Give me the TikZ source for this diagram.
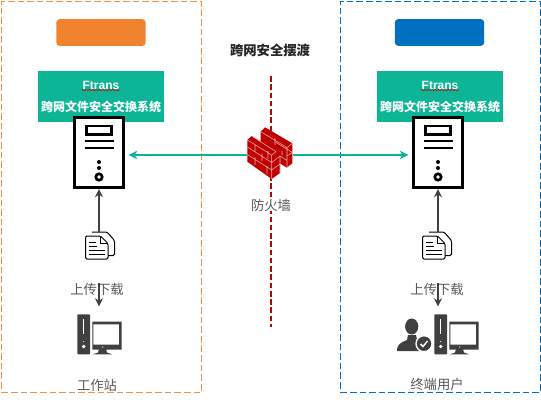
\documentclass[tikz,border=0pt]{standalone}
\usepackage{fontspec}
\setmainfont{Noto Sans CJK SC}
\newfontfamily\ftfont{Liberation Sans}
\usetikzlibrary{arrows.meta,decorations.pathmorphing}
\definecolor{fteal}{HTML}{0DB597}
\definecolor{forange}{HTML}{F2832E}
\definecolor{fblue}{HTML}{0070C0}
\definecolor{fred}{HTML}{C00000}
\definecolor{ficon}{HTML}{404040}
\definecolor{fgrey}{HTML}{595959}
\tikzset{
  zonel/.style={draw=forange!90!white,dashed,dash pattern=on 5pt off 2.2pt,line width=0.9pt,minimum width=150pt,minimum height=293pt,inner sep=0pt},
  zoner/.style={draw=fblue,dashed,dash pattern=on 5pt off 2.2pt,line width=0.9pt,minimum width=150pt,minimum height=293pt,inner sep=0pt},
  head/.style={rounded corners=2.5pt,minimum width=67pt,minimum height=20pt,inner sep=0pt},
  sysbox/.style={fill=fteal,minimum width=94.5pt,minimum height=38.5pt,inner sep=0pt},
  systxt/.style={text=white,font=\fontsize{9}{10}\selectfont\bfseries,inner sep=0pt},
  fttxt/.style={text=white,font=\fontsize{9}{10}\selectfont\ftfont\bfseries,inner sep=0.5pt},
  wavy/.style={draw=red!85!black,line width=0.4pt,decorate,decoration={snake,amplitude=0.6pt,segment length=2.5pt}},
  srv/.style={draw=black,fill=white,line width=2.5pt,minimum width=37pt,minimum height=52.5pt,inner sep=0pt},
  iconbox/.style={inner sep=0pt,outer sep=0pt},
  lbl/.style={font=\fontsize{10}{11}\selectfont,text=fgrey,inner sep=0pt},
  arr/.style={-{Stealth[length=6pt,width=6pt]},line width=1.3pt,draw=ficon},
  garr/.style={-{Stealth[length=6.5pt,width=6.5pt]},line width=1.4pt,draw=fteal,shorten >=2.5pt},
  redline/.style={draw=fred,line width=1.6pt,dash pattern=on 4.2pt off 2pt},
  srvpic/.pic={
    \draw[line width=2.1pt] (-12.5,-26.5) rectangle (12.5,-18);
    \draw[line width=2pt] (-14.5,-11.5) -- (14.5,-11.5) (-14.5,-4.5) -- (14.5,-4.5);
    \fill (0,9.5) circle (2) (0,15.5) circle (2);
    \draw[line width=2pt] (0,24.5) circle (3.2);
  },
  docpic/.pic={
    \draw[line width=0.75pt,line join=round,rounded corners=1pt] (-8,-13.5) -- (7,-13.5) -- (14.5,-5) -- (14.5,10) -- (8,10);
    \draw[line width=0.75pt,fill=white,line join=round,rounded corners=1pt] (-14.5,-9.5) -- (0.5,-9.5) -- (8,-2) -- (8,13.5) -- (-14.5,13.5) -- cycle;
    \draw[line width=0.75pt] (0.5,-9.5) -- (0.5,-2) -- (8,-2);
    \draw[line width=0.7pt] (-11,-3.5) -- (-4,-3.5) (-11,0.5) -- (-3,0.5) (-11,5) -- (4.5,5) (-11,9) -- (4.5,9);
  },
  pcpic/.pic={
    \fill[ficon,rounded corners=0.6pt] (-22.7,-19.7) rectangle (-10,20.3);
    \fill[white] (-17,-15) rectangle (-15.7,0);
    \fill[white] (-16.35,12.5) circle (1.9) (-16.35,7.5) circle (0.6);
    \fill[ficon,even odd rule] (-7.7,-12.3) rectangle (21.7,15.7) (-6.7,-9.7) rectangle (19,10.5);
    \fill[ficon] (-1,15) -- (6,15) -- (7,18.5) -- (12,20.3) -- (-7,20.3) -- (-2,18.5) -- cycle;
    \fill[white] (2.7,13) circle (0.7);
  },
  userpic/.pic={
    \fill[ficon] (-45.3,-7.5) ellipse (6.6 and 8);
    \fill[ficon] (-60,17) .. controls (-60,10) and (-56,8.5) .. (-50,6) -- (-49,1) -- (-41,1) -- (-40,6) .. controls (-34,8.5) and (-31,10) .. (-30,17) -- cycle;
    \fill[ficon,draw=white,line width=1pt] (-33,9.7) circle (8);
    \draw[white,line width=1.1pt] (-36.5,10) -- (-34,12.5) -- (-29.5,7);
  },
  wallpic/.pic={
    \fill[fred] (-22.7,-15) -- (-18.3,-19) -- (-9.3,-13.5) -- (-9.3,-23.3) -- (-5,-27.7) -- (22.3,-11.7) -- (22.3,8.3) -- (16.7,12.7) -- (10,8.3) -- (10,18) -- (1.7,24) -- (-22.7,6.7) -- cycle;
    \draw[white!70!fred,line width=0.4pt]
      (-22.7,-15) -- (1.7,0) -- (6,-3.3) (-18.3,-19) -- (6,-3.3)
      (-9.3,-23.3) -- (17,-7.4) -- (22.3,-11.7) (17,-7.4) -- (17,12.7)
      (-22.7,-8) -- (1.7,7.5) (-22.7,-0.5) -- (1.7,15)
      (1.7,0) -- (1.7,24) (1.7,7.5) -- (10,1) -- (17,5.5) (1.7,15) -- (10,9)
      (10,1) -- (10,18) (6,-12.5) -- (22.3,-2.5) -- (17,1)
      (-15,-10.2) -- (-15,-3) (-8,-1.5) -- (-8,6) (-15,2) -- (-15,10) (-2,-4) -- (-2,3.5) (-3,11) -- (-3,19)
      (5,-17) -- (5,-10) (12,-4) -- (12,0);
  },
}
\begin{document}
\begin{tikzpicture}[x=0.75pt,y=-0.75pt]
  \useasboundingbox (0,0) rectangle (541,410);
  \fill[white] (0,0) rectangle (541,410);
  \node[zonel] (zl) at (101.5,196.8) {};
  \node[zoner] (zr) at (440.3,196.8) {};
  \node[head,fill=forange] (hl) at (101,32.5) {};
  \node[head,fill=fblue] (hr) at (439.5,32.5) {};
  \node[font=\fontsize{10}{11}\selectfont\bfseries,text=black!85,inner sep=0pt] (title) at (270,50) {跨网安全摆渡};
  % red divider
  \coordinate (dtop) at (270.8,76);
  \coordinate (dbot) at (270.8,327);
  \draw[redline] (dtop) -- (dbot);
  \node[lbl,fill=white] (fwlbl) at (271,205) {防火墙};
  % left side
  \node[sysbox] (sl) at (101,96.5) {};
  \node[fttxt] (ftl) at (101,85) {Ftrans};
  \node[systxt] (txl) at (101,107) {跨网文件安全交换系统};
  \draw[wavy] (ftl.south west) -- (ftl.south east);
  \node[srv] (srvl) at (99,152.5) {};
  \pic at (99,152.5) {srvpic};
  \node[iconbox,minimum width=22.5pt,minimum height=20.5pt] (docl) at (100,245.5) {};
  \pic at (100,245.5) {docpic};
  \node[lbl] (upl) at (97,289) {上传下载};
  \node[iconbox,minimum width=33pt,minimum height=30pt] (pcl) at (100,334.3) {};
  \pic at (100,334) {pcpic};
  \node[lbl] (wsl) at (97,385) {工作站};
  \draw[arr] (docl.north -| srvl.south) -- (srvl.south);
  \draw[arr,shorten >=6pt] (upl.north -| srvl.south) -- (pcl.north -| srvl.south);
  % right side
  \node[sysbox] (sr) at (440,96.5) {};
  \node[fttxt] (ftr) at (440,85) {Ftrans};
  \node[systxt] (txr) at (440,107) {跨网文件安全交换系统};
  \draw[wavy] (ftr.south west) -- (ftr.south east);
  \node[srv] (srvr) at (438,152.5) {};
  \pic at (438,152.5) {srvpic};
  \node[iconbox,minimum width=22.5pt,minimum height=20.5pt] (docr) at (437,245.5) {};
  \pic at (437,245.5) {docpic};
  \node[lbl] (upr) at (437,289) {上传下载};
  \node[iconbox,minimum width=61pt,minimum height=30pt] (pcr) at (437.5,334.3) {};
  \pic at (457,334) {pcpic};
  \pic at (457,334) {userpic};
  \node[lbl] (usr) at (437,384.5) {终端用户};
  \draw[arr] (docr.north -| srvr.south) -- (srvr.south);
  \draw[arr,shorten >=6pt] (upr.north -| srvr.south) -- (pcr.north -| srvr.south);
  % firewall
  \node[iconbox,minimum width=34.5pt,minimum height=39pt] (fw) at (270,155) {};
  \draw[garr] (fw.west) -- (fw.west -| srvl.east);
  \draw[garr] (fw.east) -- (fw.east -| srvr.west);
  \pic at (270,155) {wallpic};
\end{tikzpicture}
\end{document}
